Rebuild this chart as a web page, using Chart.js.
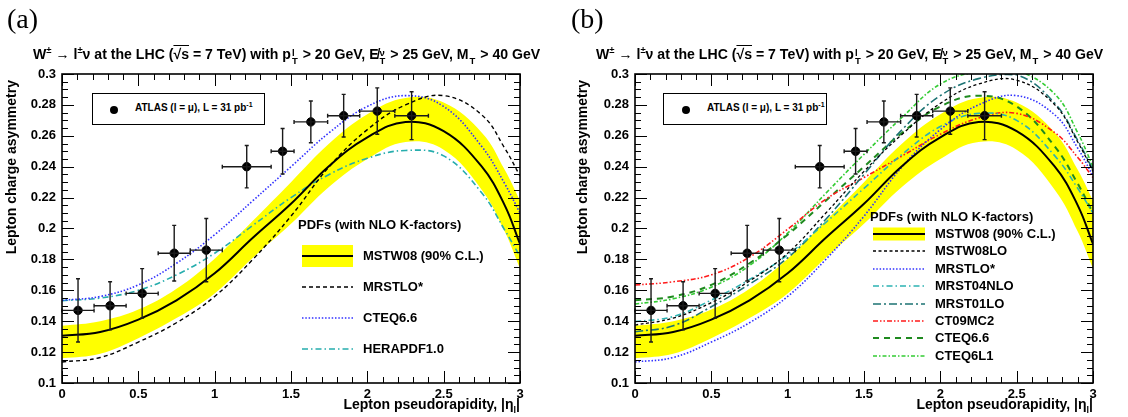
<!DOCTYPE html>
<html>
<head>
<meta charset="utf-8">
<script src="https://cdn.jsdelivr.net/npm/chart.js@4.4.0/dist/chart.umd.min.js"></script>
<style>
  body { margin: 0; background: #fff; font-family: "Liberation Sans", Arial, sans-serif; }
  #wrap { position: relative; width: 1128px; height: 417px; overflow: hidden; }
  .panel { position: absolute; top: 0; width: 564px; height: 417px; }
  .panel canvas { position: absolute; left: 0; top: 0; }
  .tag { position: absolute; left: 7px; top: 0; font-family: "Liberation Serif", serif; font-size: 28px; line-height: 38px; }
  .sub { position: absolute; top: 46px; font-weight: bold; font-size: 14.1px; line-height: 16px; white-space: nowrap; }
  .sub sup { font-size: 9.5px; line-height: 0; }
  .ss { display: inline-block; font-size: 9.5px; line-height: 8px; vertical-align: -5px; margin: 0 1px; text-align: left; }
  .ss span { display: block; }
  .ov { text-decoration: overline; }
  .box { position: absolute; top: 93px; height: 30px; border: 1px solid #000; background: #fff; font-weight: bold; font-size: 10px; }
  .box svg { position: absolute; top: 11px; }
  .box .t { position: absolute; top: 8px; white-space: nowrap; }
  .box sup { font-size: 7px; line-height: 0; }
  .leg { position: absolute; font-weight: bold; font-size: 13px; white-space: nowrap; }
  .leg .row { position: absolute; left: 0; height: 22px; }
  .leg .row svg { position: absolute; left: 0; }
  .leg .row span { position: absolute; top: 3px; }
  .ytitle { position: absolute; width: 240px; height: 16px; line-height: 16px; text-align: right; font-weight: bold; font-size: 14px; transform-origin: left top; transform: rotate(-90deg); white-space: nowrap; }
  .xtitle { position: absolute; top: 396px; font-weight: bold; font-size: 14px; white-space: nowrap; text-align: right; }
  .xtitle sub { font-size: 9px; }
</style>
</head>
<body>
<div id="wrap">
  <div class="panel" id="pa" style="left:0">
    <canvas id="chartA" width="564" height="417"></canvas>
    <div class="tag">(a)</div>
  </div>
  <div class="panel" id="pb" style="left:564px">
    <canvas id="chartB" width="564" height="417"></canvas>
    <div class="tag">(b)</div>
  </div>
</div>
<script>
// pseudorapidity grid on which the theory curves were read
const etaGrid   = [0, 0.25, 0.5, 0.75, 1, 1.25, 1.5, 1.75, 2, 2.25, 2.5, 2.75, 2.9, 3];

// MSTW08 central value and 90% C.L. band
const mstw08    = [0.1305, 0.1330, 0.1410, 0.1535, 0.1710, 0.1940, 0.2160, 0.2405, 0.2590, 0.2690, 0.2630, 0.2400, 0.2150, 0.1900];
const mstw08Hi  = [0.1370, 0.1400, 0.1475, 0.1610, 0.1805, 0.2050, 0.2300, 0.2550, 0.2740, 0.2845, 0.2815, 0.2620, 0.2380, 0.2180];
const mstw08Lo  = [0.1160, 0.1190, 0.1290, 0.1420, 0.1580, 0.1810, 0.2030, 0.2270, 0.2450, 0.2560, 0.2510, 0.2250, 0.1980, 0.1740];

// other PDF predictions
const mrstloStar = [0.1136, 0.1165, 0.1265, 0.1390, 0.1560, 0.1800, 0.2080, 0.2400, 0.2640, 0.2800, 0.2860, 0.2735, 0.2520, 0.2340];
const cteq66     = [0.1535, 0.1560, 0.1635, 0.1775, 0.1960, 0.2180, 0.2400, 0.2620, 0.2790, 0.2860, 0.2790, 0.2530, 0.2290, 0.2100];
const herapdf10  = [0.1533, 0.1550, 0.1600, 0.1700, 0.1840, 0.2020, 0.2200, 0.2350, 0.2455, 0.2505, 0.2470, 0.2230, 0.1990, 0.1820];
const mstw08lo   = [0.1375, 0.1420, 0.1520, 0.1660, 0.1840, 0.2100, 0.2370, 0.2610, 0.2810, 0.2935, 0.2960, 0.2800, 0.2560, 0.2370];
const mrst04nlo  = [0.1397, 0.1430, 0.1537, 0.1670, 0.1830, 0.2040, 0.2260, 0.2480, 0.2660, 0.2745, 0.2700, 0.2470, 0.2260, 0.2100];
const mrst01lo   = [0.1332, 0.1370, 0.1494, 0.1640, 0.1810, 0.2060, 0.2350, 0.2640, 0.2860, 0.2970, 0.2995, 0.2810, 0.2570, 0.2380];
const ct09mc2    = [0.1634, 0.1655, 0.1700, 0.1815, 0.1995, 0.2190, 0.2330, 0.2470, 0.2610, 0.2715, 0.2745, 0.2620, 0.2460, 0.2330];
const cteq6l1    = [0.1511, 0.1545, 0.1620, 0.1760, 0.1970, 0.2228, 0.2480, 0.2720, 0.2935, 0.3015, 0.3020, 0.2870, 0.2620, 0.2400];

// ATLAS muon data
const atlasEta  = [0.105, 0.315, 0.525, 0.735, 0.945, 1.21, 1.445, 1.63, 1.845, 2.065, 2.29];
const binLo     = [0, 0.21, 0.42, 0.63, 0.84, 1.05, 1.37, 1.52, 1.74, 1.95, 2.18];
const binHi     = [0.21, 0.42, 0.63, 0.84, 1.05, 1.37, 1.52, 1.74, 1.95, 2.18, 2.4];
const atlasAsym = [0.147, 0.150, 0.158, 0.184, 0.186, 0.240, 0.250, 0.269, 0.273, 0.276, 0.273];
const atlasErr  = [0.0205, 0.0155, 0.016, 0.018, 0.0205, 0.0137, 0.0147, 0.0135, 0.0138, 0.015, 0.0155];

// axis ticks
const xTicks = [0, 0.5, 1, 1.5, 2, 2.5, 3];
const yTicks = [0.1, 0.12, 0.14, 0.16, 0.18, 0.2, 0.22, 0.24, 0.26, 0.28, 0.3];

const leftCurves = [
  { label: 'MRSTLO*',    values: mrstloStar, color: '#000000', dash: [4, 3],          width: 1.4 },
  { label: 'CTEQ6.6',    values: cteq66,     color: '#3030ff', dash: [1.5, 1.8],      width: 1.6 },
  { label: 'HERAPDF1.0', values: herapdf10,  color: '#26adad', dash: [6, 3, 1.5, 3],  width: 1.6 }
];
const rightCurves = [
  { label: 'MSTW08LO',  values: mstw08lo,   color: '#000000', dash: [3, 2.5],              width: 1.3 },
  { label: 'MRSTLO*',   values: mrstloStar, color: '#3030ff', dash: [1.5, 1.8],            width: 1.6 },
  { label: 'MRST04NLO', values: mrst04nlo,  color: '#2cb3b3', dash: [6, 3, 1.5, 3],        width: 1.6 },
  { label: 'MRST01LO',  values: mrst01lo,   color: '#1d7373', dash: [8, 3, 2, 3],          width: 1.6 },
  { label: 'CT09MC2',   values: ct09mc2,    color: '#ff1a1a', dash: [5, 2, 1.5, 2, 1.5, 2], width: 1.6 },
  { label: 'CTEQ6.6',   values: cteq66,     color: '#1f8a1f', dash: [6, 5],                width: 2 },
  { label: 'CTEQ6L1',   values: cteq6l1,    color: '#33cc33', dash: [4, 2, 1.5, 2],        width: 1.6 }
];

const FONT = '"Liberation Sans", Arial, sans-serif';
const pts = vals => etaGrid.map((e, i) => ({ x: e, y: vals[i] }));

// error bars of the data, drawn through the chart scales
const errorBars = {
  id: 'errorBars',
  afterDatasetsDraw(chart) {
    const { ctx, scales: { x, y } } = chart;
    ctx.save();
    ctx.strokeStyle = '#1a1a1a';
    ctx.lineWidth = 1.4;
    atlasEta.forEach((eta, i) => {
      const px = x.getPixelForValue(eta), py = y.getPixelForValue(atlasAsym[i]);
      const x0 = x.getPixelForValue(binLo[i]), x1 = x.getPixelForValue(binHi[i]);
      const y0 = y.getPixelForValue(atlasAsym[i] - atlasErr[i]);
      const y1 = y.getPixelForValue(atlasAsym[i] + atlasErr[i]);
      ctx.beginPath();
      ctx.moveTo(x0, py); ctx.lineTo(x1, py);
      ctx.moveTo(px, y0); ctx.lineTo(px, y1);
      ctx.moveTo(px - 2, y0); ctx.lineTo(px + 2, y0);
      ctx.moveTo(px - 2, y1); ctx.lineTo(px + 2, y1);
      ctx.moveTo(x0, py - 2); ctx.lineTo(x0, py + 2);
      ctx.moveTo(x1, py - 2); ctx.lineTo(x1, py + 2);
      ctx.stroke();
    });
    ctx.restore();
  }
};

// ROOT style frame with inward ticks on all four sides
const rootFrame = {
  id: 'rootFrame',
  afterDraw(chart) {
    const { ctx, chartArea: a, scales: { x, y } } = chart;
    ctx.save();
    ctx.strokeStyle = '#000';
    ctx.lineWidth = 1;
    ctx.beginPath();
    for (let i = 0; i <= 30; i++) {
      const px = Math.round(x.getPixelForValue(i / 10)) + 0.5;
      const len = i % 5 === 0 ? 12 : 6;
      ctx.moveTo(px, a.bottom); ctx.lineTo(px, a.bottom - len);
      ctx.moveTo(px, a.top); ctx.lineTo(px, a.top + len);
    }
    for (let j = 0; j <= 40; j++) {
      const py = Math.round(y.getPixelForValue(0.1 + j * 0.005)) + 0.5;
      const len = j % 4 === 0 ? 12 : 6;
      ctx.moveTo(a.left, py); ctx.lineTo(a.left + len, py);
      ctx.moveTo(a.right, py); ctx.lineTo(a.right - len, py);
    }
    ctx.stroke();
    ctx.lineWidth = 1.6;
    ctx.strokeRect(a.left, a.top, a.right - a.left, a.bottom - a.top);
    ctx.restore();
  }
};

function makeChart(id, curves, yWidth, padRight) {
  const datasets = [
    { label: 'ATLAS', data: atlasEta.map((e, i) => ({ x: e, y: atlasAsym[i] })), showLine: false,
      pointRadius: 4.2, pointBackgroundColor: '#000', pointBorderColor: '#000', order: 0 },
    { label: 'MSTW08', data: pts(mstw08), borderColor: '#000', borderWidth: 2, pointRadius: 0, tension: 0.4, order: 1 }
  ];
  curves.forEach((c, k) => datasets.push({
    label: c.label, data: pts(c.values), borderColor: c.color, borderDash: c.dash,
    borderWidth: c.width, pointRadius: 0, tension: 0.4, order: 2 + k
  }));
  datasets.push(
    { label: 'band hi', data: pts(mstw08Hi), borderWidth: 0, borderColor: 'rgba(0,0,0,0)', pointRadius: 0,
      tension: 0.4, fill: '+1', backgroundColor: '#ffff00', order: 20 },
    { label: 'band lo', data: pts(mstw08Lo), borderWidth: 0, borderColor: 'rgba(0,0,0,0)', pointRadius: 0,
      tension: 0.4, fill: false, order: 21 }
  );
  const tickFont = { family: FONT, size: 13, weight: 'bold' };
  return new Chart(document.getElementById(id), {
    type: 'line',
    data: { datasets },
    options: {
      responsive: false, animation: false, devicePixelRatio: 1,
      layout: { padding: { left: 0, top: 74, right: padRight, bottom: 0 } },
      plugins: { legend: { display: false }, tooltip: { enabled: false } },
      scales: {
        x: {
          type: 'linear', min: 0, max: 3,
          afterBuildTicks: s => { s.ticks = xTicks.map(v => ({ value: v })); },
          afterFit: s => { s.height = 34; },
          grid: { display: false, drawTicks: false }, border: { display: false },
          ticks: { padding: 4, maxRotation: 0, autoSkip: false, color: '#000', font: tickFont,
                   callback: v => String(+v.toFixed(1)) }
        },
        y: {
          type: 'linear', min: 0.1, max: 0.3,
          afterBuildTicks: s => { s.ticks = yTicks.map(v => ({ value: v })); },
          afterFit: s => { s.width = yWidth; },
          grid: { display: false, drawTicks: false }, border: { display: false },
          ticks: { padding: 6, color: '#000', font: tickFont, callback: v => String(+v.toFixed(2)) }
        }
      }
    },
    plugins: [errorBars, rootFrame]
  });
}

makeChart('chartA', leftCurves, 62, 44);
makeChart('chartB', rightCurves, 71, 35);

// ---- text overlays (titles, legends, axis titles) ----
const subtitleHTML = 'W<sup>±</sup> → l<sup>±</sup>ν at the LHC (<span class="ov">√s</span> = 7 TeV) with p<span class="ss"><span>l</span><span>T</span></span> &gt; 20 GeV, E̸<span class="ss"><span>ν</span><span>T</span></span> &gt; 25 GeV, M<span class="ss"><span>&nbsp;</span><span>T</span></span> &gt; 40 GeV';

function swatch(c, w, h) {
  const dash = c.dash ? c.dash.join(' ') : '';
  return `<svg width="${w}" height="${h}"><line x1="0" y1="${h / 2}" x2="${w}" y2="${h / 2}" stroke="${c.color}" stroke-width="${c.width}" stroke-dasharray="${dash}"/></svg>`;
}

function decorate(panelId, o) {
  const p = document.getElementById(panelId);
  const add = html => p.insertAdjacentHTML('beforeend', html);
  add(`<div class="sub" style="left:${o.subLeft}px">${subtitleHTML}</div>`);
  add(`<div class="box" style="left:${o.boxLeft}px;width:${o.boxWidth}px">
         <svg width="10" height="10" style="left:${o.dotX - 5}px"><circle cx="5" cy="5" r="4" fill="#000"/></svg>
         <span class="t" style="left:${o.boxText}px">ATLAS (l = μ), L = 31 pb<sup>-1</sup></span></div>`);
  let rows = `<div class="leg" style="left:${o.legLeft}px;top:${o.legTop}px">
     <div style="position:absolute;left:${o.titleDx}px;top:0">PDFs (with NLO K-factors)</div>`;
  const items = [{ label: 'MSTW08 (90% C.L.)', band: true }].concat(o.curves);
  items.forEach((c, i) => {
    const top = o.firstRow + i * o.rowStep - 11;
    const sw = c.band
      ? `<svg width="${o.swW}" height="22"><rect x="0" y="${11 - o.bandH / 2}" width="${o.swW}" height="${o.bandH}" fill="#ffff00"/><line x1="0" y1="11" x2="${o.swW}" y2="11" stroke="#000" stroke-width="2"/></svg>`
      : swatch(c, o.swW, 22);
    rows += `<div class="row" style="top:${top}px">${sw}<span style="left:${o.labelDx}px">${c.label}</span></div>`;
  });
  rows += '</div>';
  add(rows);
  add(`<div class="ytitle" style="left:${o.yTitleLeft}px;top:${80 + 240}px">Lepton charge asymmetry</div>`);
  add(`<div class="xtitle" style="right:${564 - o.xRight}px">Lepton pseudorapidity, |η<sub>l</sub>|</div>`);
}

decorate('pa', { subLeft: 33, boxLeft: 92, boxWidth: 171, dotX: 21, boxText: 42,
  legLeft: 302, legTop: 217, titleDx: -4, curves: leftCurves, firstRow: 39, rowStep: 31,
  swW: 51, bandH: 22, labelDx: 61, yTitleLeft: 3, xRight: 520 });
decorate('pb', { subLeft: 32, boxLeft: 99, boxWidth: 162, dotX: 22, boxText: 43,
  legLeft: 309, legTop: 209, titleDx: -3, curves: rightCurves, firstRow: 25, rowStep: 17.4,
  swW: 52, bandH: 13, labelDx: 62, yTitleLeft: 10, xRight: 529 });
</script>
</body>
</html>
